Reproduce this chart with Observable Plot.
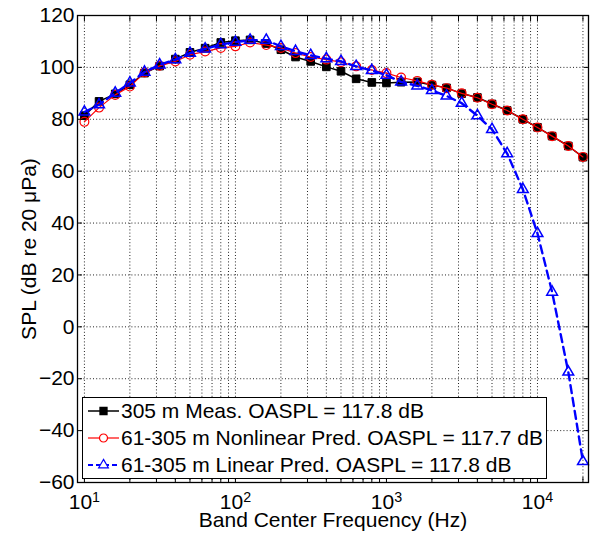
<!DOCTYPE html>
<html><head><meta charset="utf-8">
<script src="https://cdn.jsdelivr.net/npm/d3@7"></script>
<script src="https://cdn.jsdelivr.net/npm/@observablehq/plot@0.6"></script>
<style>
body{margin:0;background:#fff;font-family:"Liberation Sans",Arial,sans-serif;}
#wrap{position:relative;width:590px;height:535px;}
#legend{position:absolute;left:82px;top:397px;width:463px;height:80px;border:1.3px solid #000;background:#fff;box-sizing:content-box;}
.row{height:26.7px;display:flex;align-items:center;font-size:21px;white-space:nowrap;color:#000;}
.row svg{flex:none;margin-left:4px;margin-right:1px;}
</style></head><body><div id="wrap"></div>
<script>
// One-third octave band center frequencies (Hz)
const freqs = [10,12.5,16,20,25,31.5,40,50,63,80,100,125,160,200,250,315,400,500,630,800,1000,1250,1600,2000,2500,3150,4000,5000,6300,8000,10000,12500,16000,20000];
// 305 m measured
const measured = [81.4,86.9,89.8,93.3,97.8,100.5,103.2,105.8,107.4,109.6,110.3,110.6,109.2,106.8,104.0,102.3,100.2,98.5,95.6,94.2,94.0,94.3,94.4,93.2,92.1,89.9,88.4,85.9,83.4,80.0,76.9,73.5,69.7,65.4];
// 61-305 m nonlinear prediction
const nonlinear = [79.0,84.5,89.4,92.6,98.0,100.6,102.3,104.9,106.1,107.5,108.1,109.6,108.6,107.5,105.5,104.0,103.0,102.0,100.4,99.0,97.8,96.1,94.8,93.3,92.0,90.0,88.3,85.8,83.4,80.0,76.8,73.5,69.7,65.5];
// 61-305 m linear prediction
const linear = [82.8,85.6,90.1,94.0,98.2,101.0,103.0,105.5,107.1,108.8,109.7,110.5,110.5,108.1,106.2,104.6,103.4,102.3,100.4,98.8,97.0,94.4,92.9,91.1,89.0,86.2,81.4,76.1,66.8,53.0,36.0,13.4,-17.4,-51.9];

const seriesNames = ["305 m Meas. OASPL = 117.8 dB", "61-305 m Nonlinear Pred. OASPL = 117.7 dB", "61-305 m Linear Pred. OASPL = 117.8 dB"];
const xTitle = "Band Center Frequency (Hz)";
const yTitle = "SPL (dB re 20 \u03BCPa)";
const yTicks = [-60,-40,-20,0,20,40,60,80,100,120];
const yGrid = [-40,-20,0,20,40,60,80,100];
const xMajor = [10,100,1000,10000];
const xGrid = [10,20,30,40,50,60,70,80,90,100,200,300,400,500,600,700,800,900,1000,2000,3000,4000,5000,6000,7000,8000,9000,10000,20000];

const mk = vals => freqs.map((f, i) => ({f, v: vals[i]}));
const dMeas = mk(measured), dNon = mk(nonlinear), dLin = mk(linear);

const gridStyle = {stroke: "#222", strokeDasharray: "1,2.2", strokeWidth: 1};

const plot = Plot.plot({
  width: 590, height: 535,
  marginLeft: 77, marginRight: 2, marginTop: 15, marginBottom: 53,
  style: {fontFamily: "'Liberation Sans', Arial, sans-serif", fontSize: "21px", color: "#000", background: "#fff"},
  x: {type: "log", domain: [9, 21770]},
  y: {domain: [-60, 120]},
  marks: [
    Plot.ruleX(xGrid, {x: d => d, ...gridStyle}),
    Plot.ruleY(yGrid, {y: d => d, ...gridStyle}),
    Plot.line(dMeas, {x: "f", y: "v", stroke: "#000", strokeWidth: 1.5}),
    Plot.dot(dMeas, {x: "f", y: "v", symbol: "square", r: 4.3, fill: "#000", stroke: "#000", strokeWidth: 1}),
    Plot.line(dNon, {x: "f", y: "v", stroke: "#ff0000", strokeWidth: 1.2}),
    Plot.dot(dNon, {x: "f", y: "v", symbol: "circle", r: 4.4, fill: "none", stroke: "#ff0000", strokeWidth: 1.2}),
    Plot.line(dLin, {x: "f", y: "v", stroke: "#0000ff", strokeWidth: 2.4, strokeDasharray: "8,5"}),
    Plot.dot(dLin, {x: "f", y: "v", symbol: "triangle", r: 4, fill: "none", stroke: "#0000ff", strokeWidth: 1.5}),
    Plot.frame({stroke: "#000", strokeWidth: 1.3}),
    Plot.axisX(xGrid, {anchor: "bottom", tickSize: -5, tickFormat: () => "", label: null}),
    Plot.axisX(xGrid, {anchor: "top", tickSize: -5, tickFormat: () => "", label: null}),
    Plot.axisY(yTicks, {anchor: "right", tickSize: -5, tickFormat: () => "", label: null}),
    Plot.axisY(yTicks, {anchor: "left", tickSize: -5, tickPadding: 8, fontSize: 21, label: null}),
    Plot.axisX(xMajor, {anchor: "bottom", tickSize: 0, tickPadding: 12, fontSize: 21, tickFormat: d => String(d), label: null}),
    Plot.text([xTitle], {text: d => d, frameAnchor: "bottom", dy: 44, fontSize: 21, textAnchor: "middle"}),
    Plot.text([yTitle], {text: d => d, frameAnchor: "left", dx: -48, rotate: -90, fontSize: 21, textAnchor: "middle"})
  ]
});

// superscript exponents for decade labels
d3.select(plot).selectAll('g[aria-label="x-axis tick label"] text').each(function() {
  const t = this.textContent.trim();
  if (!t) return;
  const e = Math.round(Math.log10(+t));
  const s = d3.select(this);
  s.text("10");
  s.append("tspan").attr("dy", "-0.5em").attr("font-size", "0.68em").text(String(e));
});

const wrap = document.getElementById("wrap");
wrap.appendChild(plot);

// legend inside the axes
const legendStyles = [
  {stroke: "#000", width: 1.5, dash: null, symbol: "square", fill: "#000"},
  {stroke: "#ff0000", width: 1.2, dash: null, symbol: "circle", fill: "none"},
  {stroke: "#0000ff", width: 2, dash: "5,3", symbol: "triangle", fill: "none"}
];
const legend = d3.select(wrap).append("div").attr("id", "legend");
seriesNames.forEach((name, i) => {
  const st = legendStyles[i];
  const row = legend.append("div").attr("class", "row");
  const svg = row.append("svg").attr("width", 33).attr("height", 20);
  svg.append("line").attr("x1", 1).attr("x2", 32).attr("y1", 10).attr("y2", 10)
    .attr("stroke", st.stroke).attr("stroke-width", st.width).attr("stroke-dasharray", st.dash);
  const sym = {square: d3.symbolSquare, circle: d3.symbolCircle, triangle: d3.symbolTriangle}[st.symbol];
  const r = st.symbol === "triangle" ? 3.6 : 4;
  svg.append("path").attr("d", d3.symbol(sym, Math.PI * r * r)())
    .attr("transform", "translate(16.5,10)")
    .attr("fill", st.fill === "none" ? "#fff" : st.fill).attr("stroke", st.stroke).attr("stroke-width", 1.2);
  row.append("span").text(name);
});
</script></body></html>
